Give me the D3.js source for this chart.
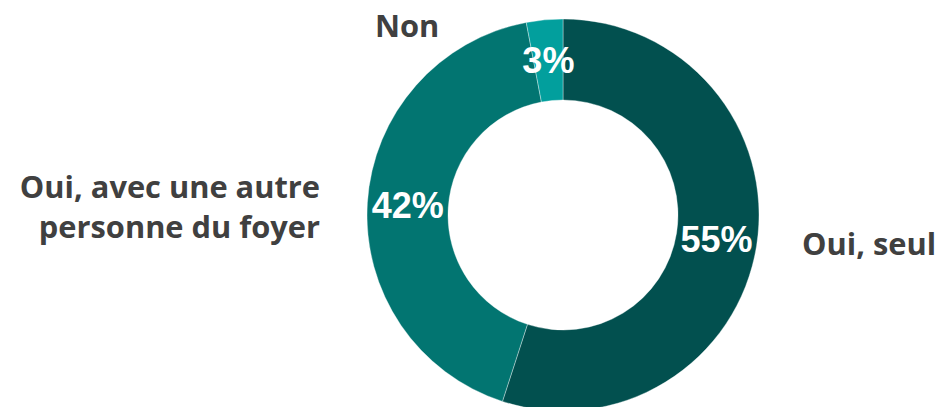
<!DOCTYPE html>
<html>
<head>
<meta charset="utf-8">
<script src="https://cdn.jsdelivr.net/npm/d3@7"></script>
<style>
  html, body { margin: 0; padding: 0; background: #fff; }
  svg { display: block; }
</style>
</head>
<body>
<svg id="chart" width="943" height="407"></svg>
<script>
// Répartition des réponses
const categories = ["Oui, seul", "Oui, avec une autre personne du foyer", "Non"];
const values = [55, 42, 3];
const valueLabels = ["55%", "42%", "3%"];
const colors = ["#02504f", "#027571", "#029f9d"];

const W = 943, H = 407;
const cx = 563, cy = 215;
const outerR = 196, innerR = 115;

const svg = d3.select("#chart");
const g = svg.append("g").attr("transform", `translate(${cx},${cy})`);

const pie = d3.pie().sort(null).value(d => d.value);
const data = categories.map((c, i) => ({ name: c, value: values[i], label: valueLabels[i], color: colors[i] }));
const arcs = pie(data);

const arc = d3.arc().innerRadius(innerR).outerRadius(outerR);
const labelArc = d3.arc().innerRadius((innerR + outerR) / 2).outerRadius((innerR + outerR) / 2);

g.selectAll("path.slice")
  .data(arcs)
  .join("path")
  .attr("class", "slice")
  .attr("d", arc)
  .attr("fill", d => d.data.color)
  .attr("stroke", "rgba(255,255,255,0.45)")
  .attr("stroke-width", 0.8);

// Valeurs dans l'anneau
g.selectAll("text.value")
  .data(arcs)
  .join("text")
  .attr("class", "value")
  .attr("x", d => labelArc.centroid(d)[0])
  .attr("y", d => labelArc.centroid(d)[1] + 13)
  .attr("text-anchor", "middle")
  .attr("font-family", "'Liberation Sans', Arial, sans-serif")
  .attr("font-weight", "bold")
  .attr("font-size", 36)
  .attr("fill", "#fff")
  .text(d => d.data.label);

// Libellés des catégories
const labelStyle = sel => sel
  .attr("font-family", "'Open Sans', 'Noto Sans', sans-serif")
  .attr("font-weight", "bold")
  .attr("font-size", 30.8)
  .attr("fill", "#404040");

// Oui, seul — à droite
svg.append("text")
  .attr("x", cx + outerR + 43)
  .attr("y", 255)
  .attr("text-anchor", "start")
  .call(labelStyle)
  .text(categories[0]);

// Oui, avec une autre personne du foyer — à gauche, sur deux lignes
const left = svg.append("text")
  .attr("text-anchor", "end")
  .call(labelStyle);
const words = categories[1].split(" ");
const lines = [words.slice(0, 4).join(" "), words.slice(4).join(" ")];
left.selectAll("tspan")
  .data(lines)
  .join("tspan")
  .attr("x", cx - outerR - 47)
  .attr("y", (d, i) => 198 + i * 40)
  .text(d => d);

// Non — en haut à gauche
svg.append("text")
  .attr("x", 375)
  .attr("y", 37)
  .attr("text-anchor", "start")
  .call(labelStyle)
  .text(categories[2]);
</script>
</body>
</html>
